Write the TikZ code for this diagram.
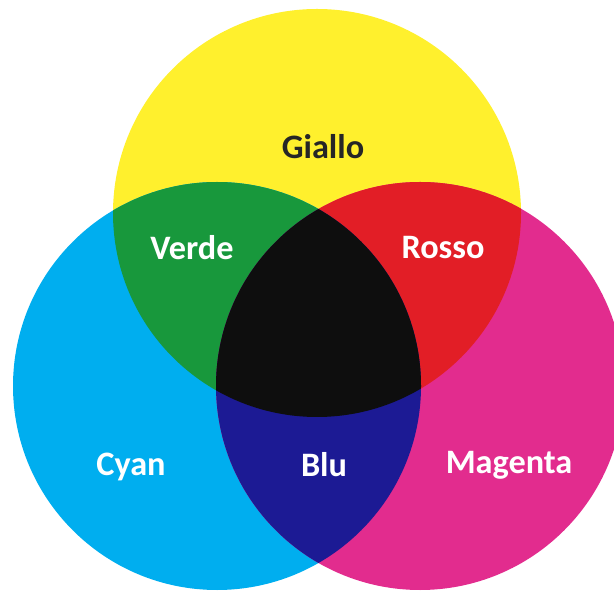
\documentclass[tikz,border=0pt]{standalone}
\usepackage{fontspec}
\setsansfont{Carlito}
\usepackage{tikz}
\definecolor{giallo}{RGB}{255,240,45}
\definecolor{ciano}{RGB}{0,174,239}
\definecolor{magenta}{RGB}{226,44,142}
\definecolor{verde}{RGB}{24,152,60}
\definecolor{rosso}{RGB}{226,30,38}
\definecolor{blu}{RGB}{28,26,148}
\definecolor{nero}{RGB}{14,14,14}
\tikzset{lbl/.style={font=\sffamily\bfseries\fontsize{19.5}{22}\selectfont,text=white,inner sep=0pt},
  dark/.style={lbl,text=black!85}}
\begin{document}
\begin{tikzpicture}[x=0.02cm,y=0.02cm]
\useasboundingbox (0,0) rectangle (614,591);
\coordinate (Y) at (317,378);
\coordinate (C) at (217,205);
\coordinate (M) at (420,205);
\def\rad{204}
\clip (0,0) rectangle (614,591);
\fill[giallo] (Y) circle (\rad);
\fill[ciano] (C) circle (\rad);
\fill[magenta] (M) circle (\rad);
\begin{scope}
 \clip (Y) circle (\rad);
 \fill[verde] (C) circle (\rad);
 \fill[rosso] (M) circle (\rad);
\end{scope}
\begin{scope}
 \clip (C) circle (\rad);
 \fill[blu] (M) circle (\rad);
 \clip (Y) circle (\rad);
 \fill[nero] (M) circle (\rad);
\end{scope}
\node[dark] (giallo) at (323,444) {Giallo};
\node[lbl] (verde) at (192,343) {Verde};
\node[lbl] (rosso) at (443,343) {Rosso};
\node[lbl] (cyan) at (131,124) {Cyan};
\node[lbl] (blu) at (324,126) {Blu};
\node[lbl] (magenta) at (509,126) {Magenta};
\end{tikzpicture}
\end{document}
